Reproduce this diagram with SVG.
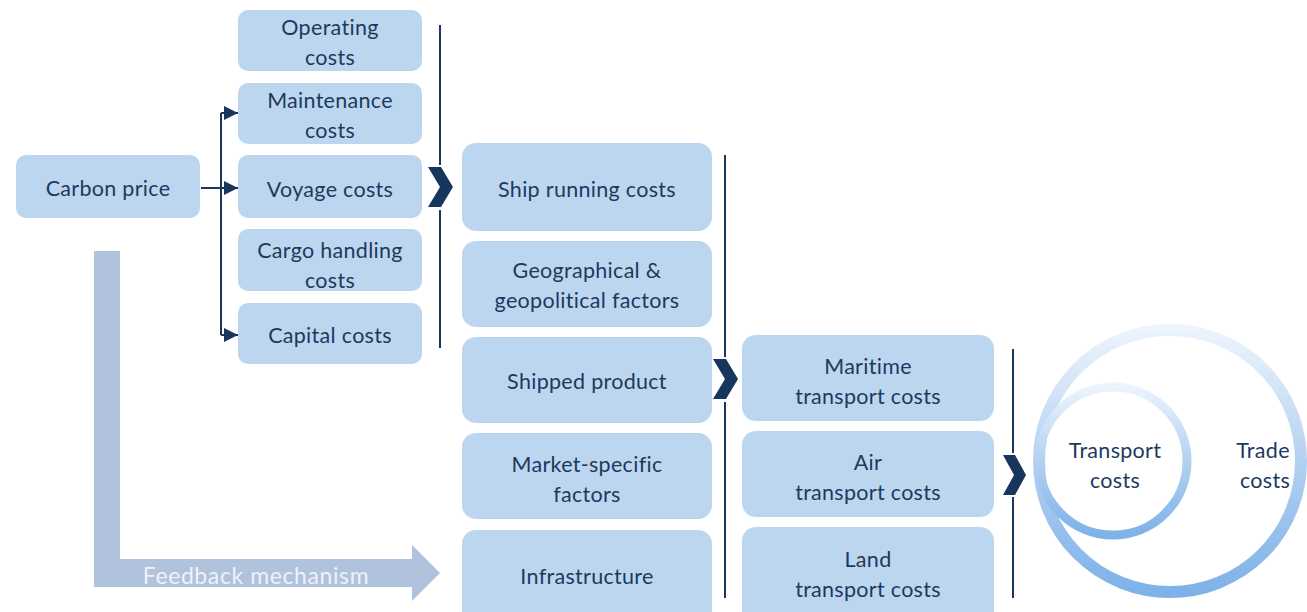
<svg xmlns="http://www.w3.org/2000/svg" width="1307" height="612" viewBox="0 0 1307 612">
<defs>
<style>
.box{fill:#bdd6ef;}
.t{font-family:Lato,"Open Sans",sans-serif;font-size:21.5px;fill:#1c3a5e;text-anchor:middle;letter-spacing:0.3px;}
.ln{stroke:#1b375c;stroke-width:2;fill:none;}
.chev{fill:#17365d;}
</style>
<marker id="ah" viewBox="0 0 10 10" refX="10" refY="5" markerWidth="14" markerHeight="14" markerUnits="userSpaceOnUse" orient="auto">
<path d="M0,0 L10,5 L0,10 z" fill="#17365d"/>
</marker>
<linearGradient id="ring" x1="0" y1="0" x2="0" y2="1">
<stop offset="0" stop-color="#ecf4fd"/>
<stop offset="0.5" stop-color="#b3d1f1"/>
<stop offset="1" stop-color="#7eb2e8"/>
</linearGradient>
</defs>

<g id="feedback">
<path d="M94,251 H120 V559 H412 V545 L440,573 L412,601 V587 H94 Z" fill="#b1c2dc"/>
<text x="256" y="584" style="font-family:Lato,'Open Sans',sans-serif;font-size:23px;fill:#eef2f8;text-anchor:middle;letter-spacing:0.6px">Feedback mechanism</text>
</g>

<g id="connectors">
<path class="ln" d="M201,188 H221"/>
<path class="ln" d="M221,113 V335"/>
<path class="ln" d="M221,113 H238" marker-end="url(#ah)"/>
<path class="ln" d="M221,188 H238" marker-end="url(#ah)"/>
<path class="ln" d="M221,335 H238" marker-end="url(#ah)"/>
<path class="ln" d="M440,25 V165 M440,210 V348"/>
<path class="ln" d="M725,155 V357 M725,402 V598"/>
<path class="ln" d="M1013,349 V453 M1013,497 V598"/>
<path class="chev" d="M428,167 H441 L453,187 L441,207 H428 L440,187 Z"/>
<path class="chev" d="M713,359 H726 L738,379 L726,399 H713 L725,379 Z"/>
<path class="chev" d="M1003,455 H1015 L1026,475 L1015,495 H1003 L1014,475 Z"/>
</g>

<g id="carbon-price"><rect class="box" x="16" y="155" width="184" height="63" rx="10"/><text class="t" x="108" y="196">Carbon price</text></g>

<g id="operating"><rect class="box" x="238" y="10" width="184" height="61" rx="10"/><text class="t" x="330" y="35">Operating</text><text class="t" x="330" y="65">costs</text></g>
<g id="maintenance"><rect class="box" x="238" y="83" width="184" height="61" rx="10"/><text class="t" x="330" y="108">Maintenance</text><text class="t" x="330" y="138">costs</text></g>
<g id="voyage"><rect class="box" x="238" y="155" width="184" height="63" rx="10"/><text class="t" x="330" y="197">Voyage costs</text></g>
<g id="cargo"><rect class="box" x="238" y="229" width="184" height="62" rx="10"/><text class="t" x="330" y="258">Cargo handling</text><text class="t" x="330" y="288">costs</text></g>
<g id="capital"><rect class="box" x="238" y="303" width="184" height="61" rx="10"/><text class="t" x="330" y="343">Capital costs</text></g>

<g id="ship-running"><rect class="box" x="462" y="143" width="250" height="88" rx="14"/><text class="t" x="587" y="197">Ship running costs</text></g>
<g id="geographical"><rect class="box" x="462" y="241" width="250" height="86" rx="14"/><text class="t" x="587" y="278">Geographical &amp;</text><text class="t" x="587" y="308">geopolitical factors</text></g>
<g id="shipped-product"><rect class="box" x="462" y="337" width="250" height="86" rx="14"/><text class="t" x="587" y="389">Shipped product</text></g>
<g id="market-specific"><rect class="box" x="462" y="433" width="250" height="86" rx="14"/><text class="t" x="587" y="472">Market-specific</text><text class="t" x="587" y="502">factors</text></g>
<g id="infrastructure"><rect class="box" x="462" y="530" width="250" height="100" rx="14"/><text class="t" x="587" y="584">Infrastructure</text></g>

<g id="maritime"><rect class="box" x="742" y="335" width="252" height="86" rx="14"/><text class="t" x="868" y="374">Maritime</text><text class="t" x="868" y="404">transport costs</text></g>
<g id="air"><rect class="box" x="742" y="431" width="252" height="86" rx="14"/><text class="t" x="868" y="470">Air</text><text class="t" x="868" y="500">transport costs</text></g>
<g id="land"><rect class="box" x="742" y="527" width="252" height="100" rx="14"/><text class="t" x="868" y="567">Land</text><text class="t" x="868" y="597">transport costs</text></g>

<g id="trade-costs">
<circle cx="1170" cy="461" r="131" fill="none" stroke="url(#ring)" stroke-width="12"/>
<text class="t" x="1263" y="458">Trade</text><text class="t" x="1265" y="488">costs</text>
</g>
<g id="transport-costs">
<circle cx="1113" cy="461" r="74" fill="none" stroke="url(#ring)" stroke-width="9"/>
<text class="t" x="1115" y="458">Transport</text><text class="t" x="1115" y="488">costs</text>
</g>
</svg>
